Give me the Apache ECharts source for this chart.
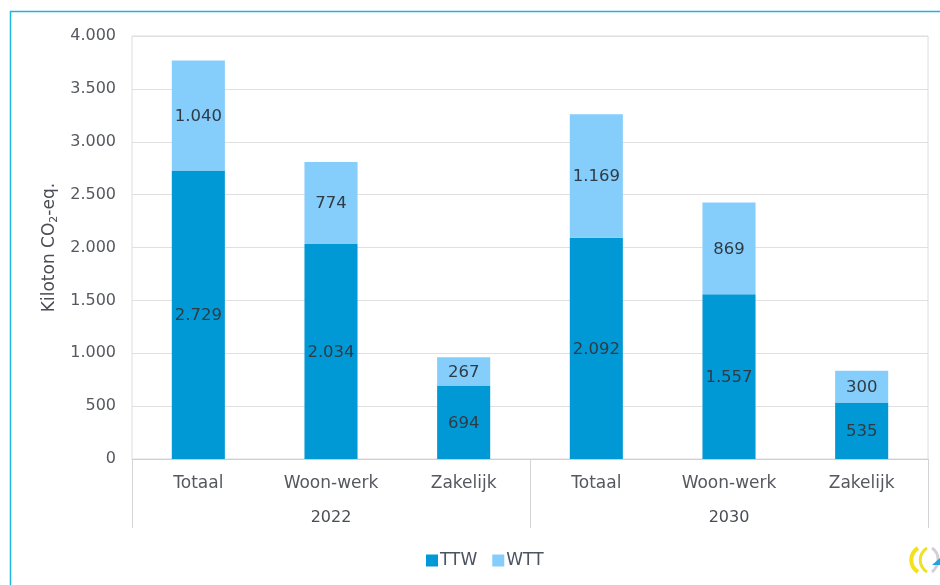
<!DOCTYPE html>
<html><head><meta charset="utf-8">
<style>html,body{margin:0;padding:0;background:#fff}#c{width:940px;height:585px}</style>
<script src="https://cdn.jsdelivr.net/npm/echarts@6/dist/echarts.min.js"></script>
</head><body><div id="c"></div>
<script>
const categories = ['Totaal','Woon-werk','Zakelijk','Totaal','Woon-werk','Zakelijk'];
const years = ['2022','2030'];
const ttw = [2729,2034,694,2092,1557,535];
const wtt = [1040,774,267,1169,869,300];
const yTicks = {min:0,max:4000,interval:500};
const font = '"DejaVu Sans"';
const nl = v => String(v).replace(/\B(?=(\d{3})+$)/g,'.');
const chart = echarts.init(document.getElementById('c'));
const lbl = {show:true,position:'inside',color:'#2f3b45',fontFamily:font,fontSize:16.5,offset:[0,1],formatter:p=>nl(p.value)};
const arc = (x,c,w) => ({type:'bezierCurve',silent:true,shape:{x1:x,y1:0,x2:x,y2:24,cpx1:x-9,cpy1:6,cpx2:x-9,cpy2:18},style:{fill:null,stroke:c,lineWidth:w}});
chart.setOption({
  animation:false,
  backgroundColor:'#fff',
  textStyle:{fontFamily:font},
  graphic:[
    {type:'polyline',silent:true,shape:{points:[[10.5,585],[10.5,11.5],[940,11.5]]},style:{fill:null,stroke:'#1fb4e0',lineWidth:1.5}},
    {type:'group',silent:true,x:906,y:548,children:[
      arc(12,'#f3e21b',4),
      arc(21,'#efe02a',3),
      {type:'bezierCurve',silent:true,shape:{x1:26,y1:0,x2:26,y2:24,cpx1:35,cpy1:6,cpx2:33,cpy2:18},style:{fill:null,stroke:'#d3cfd8',lineWidth:3}},
      {type:'polygon',silent:true,shape:{points:[[26,17],[34,10],[34,17]]},style:{fill:'#1aa6e0'}}
    ]}
  ],
  grid:{left:132,right:12,top:36,bottom:126,show:true,borderColor:'#dcdcdc',borderWidth:1},
  legend:{top:552,left:426,itemWidth:12,itemHeight:12,itemGap:15,icon:'rect',padding:0,
    textStyle:{color:'#4a5560',fontFamily:font,fontSize:17,padding:[0,0,0,-3]},data:['TTW','WTT']},
  xAxis:[
    {type:'category',data:categories,position:'bottom',
      axisLine:{lineStyle:{color:'#cfcfcf'}},axisTick:{show:false},
      axisLabel:{color:'#55585f',fontFamily:font,fontSize:17,margin:16,interval:0}},
    {type:'category',data:years,position:'bottom',
      axisLine:{show:false},
      axisTick:{show:true,alignWithLabel:false,length:69,lineStyle:{color:'#d4d4d4'}},
      axisLabel:{color:'#4a4d55',fontFamily:font,fontSize:16,margin:51,interval:0},splitLine:{show:false}}
  ],
  yAxis:{type:'value',min:yTicks.min,max:yTicks.max,interval:yTicks.interval,
    name:'{n|Kiloton CO}{s|2}{n|-eq.}',nameLocation:'middle',nameGap:70,nameRotate:90,
    nameTextStyle:{color:'#4a4d55',fontFamily:font,rich:{n:{fontSize:17,fontFamily:font,color:'#4a4d55'},s:{fontSize:11,fontFamily:font,color:'#4a4d55',verticalAlign:'bottom',padding:[8,0,0,0]}}},
    axisLine:{show:false},axisTick:{show:false},
    axisLabel:{color:'#55585f',fontFamily:font,fontSize:16,margin:16,padding:[2,0,0,0],formatter:nl},
    splitLine:{lineStyle:{color:'#e0e0e0'}}},
  series:[
    {name:'TTW',type:'bar',stack:'a',barWidth:'40%',data:ttw,itemStyle:{color:'#0099d5'},label:lbl},
    {name:'WTT',type:'bar',stack:'a',barWidth:'40%',data:wtt,itemStyle:{color:'#85cdfb'},label:lbl}
  ]
});
</script></body></html>
